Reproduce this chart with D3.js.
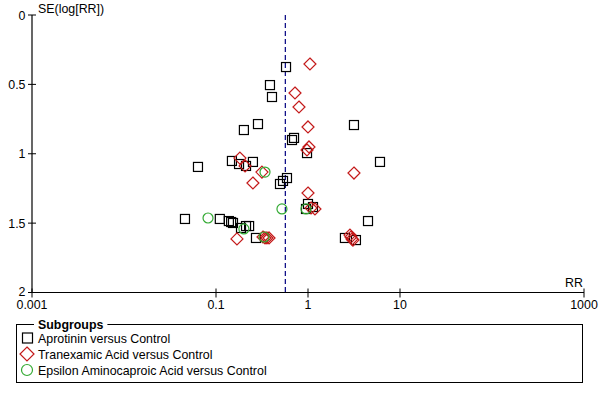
<!DOCTYPE html>
<html>
<head>
<meta charset="utf-8">
<script src="https://cdn.jsdelivr.net/npm/d3@7"></script>
<style>
  html, body { margin: 0; padding: 0; background: #fff; }
  svg { display: block; font-family: "Liberation Sans", Arial, sans-serif; }
</style>
</head>
<body>
<svg id="chart" width="600" height="400"></svg>
<script>
// ---- Data (RR, SE(log RR)) ----
const subgroups = ["Aprotinin versus Control", "Tranexamic Acid versus Control", "Epsilon Aminocaproic Acid versus Control"];

const aprotininRR = [0.577, 0.386, 0.406, 0.286, 0.201, 0.670, 0.705, 3.16, 0.976, 6.06, 0.0637, 0.149, 0.178, 0.212, 0.252, 0.496, 0.535, 0.591, 1.0, 0.951, 1.133, 4.49, 2.52, 3.32, 0.046, 0.110, 0.138, 0.146, 0.153, 0.187, 0.212, 0.229, 0.272];
const aprotininSE = [0.375, 0.505, 0.591, 0.786, 0.829, 0.901, 0.886, 0.793, 0.995, 1.059, 1.095, 1.052, 1.074, 1.088, 1.059, 1.218, 1.196, 1.175, 1.362, 1.398, 1.384, 1.485, 1.607, 1.622, 1.470, 1.470, 1.485, 1.492, 1.499, 1.535, 1.521, 1.521, 1.607];

const tranexamicRR = [1.05, 0.722, 0.798, 1.0, 1.025, 0.975, 3.16, 1.0, 1.19, 1.08, 2.86, 2.93, 3.01, 3.08, 0.182, 0.207, 0.316, 0.252, 0.169, 0.324, 0.341, 0.358, 0.377];
const tranexamicSE = [0.353, 0.562, 0.663, 0.807, 0.951, 0.973, 1.139, 1.283, 1.398, 1.391, 1.586, 1.600, 1.614, 1.622, 1.031, 1.088, 1.132, 1.211, 1.614, 1.600, 1.607, 1.607, 1.607];

const epsilonRR = [0.341, 0.521, 0.0819, 0.201, 0.333, 0.951];
const epsilonSE = [1.132, 1.398, 1.463, 1.542, 1.600, 1.398];

const pooledRR = 0.567;
const xTickValues = [0.001, 0.1, 1, 10, 1000];
const xTickLabels = ["0.001", "0.1", "1", "10", "1000"];
const yTickValues = [0, 0.5, 1, 1.5, 2];
const yTickLabels = ["0", "0.5", "1", "1.5", "2"];

// ---- Layout ----
const svg = d3.select("#chart");
const x = d3.scaleLog().domain([0.001, 1000]).range([32, 584]);
const y = d3.scaleLinear().domain([0, 2]).range([15, 292.5]);

const FONT = 12.4;

// Y axis
const yAxis = svg.append("g");
yAxis.append("line").attr("x1", 32).attr("x2", 32).attr("y1", y(0)).attr("y2", y(2))
  .attr("stroke", "#000").attr("stroke-width", 1.2);
yTickValues.forEach((v, i) => {
  yAxis.append("line").attr("x1", 28).attr("x2", 36).attr("y1", y(v)).attr("y2", y(v))
    .attr("stroke", "#000").attr("stroke-width", 1);
  yAxis.append("text").attr("x", 25.5).attr("y", y(v) + (v === 2 ? 3.5 : 4.5)).attr("text-anchor", "end")
    .attr("font-size", FONT).attr("fill", "#000").text(yTickLabels[i]);
});

// X axis
const xAxis = svg.append("g");
xAxis.append("line").attr("x1", x(0.001)).attr("x2", x(1000)).attr("y1", y(2)).attr("y2", y(2))
  .attr("stroke", "#000").attr("stroke-width", 1.2);
xTickValues.forEach((v, i) => {
  xAxis.append("line").attr("x1", x(v)).attr("x2", x(v)).attr("y1", y(2) - 4).attr("y2", y(2) + 5)
    .attr("stroke", "#000").attr("stroke-width", 1);
  xAxis.append("text").attr("x", x(v)).attr("y", y(2) + 16.5).attr("text-anchor", "middle")
    .attr("font-size", FONT).attr("fill", "#000").text(xTickLabels[i]);
});

// Axis titles
svg.append("text").attr("x", 38).attr("y", 13).attr("font-size", FONT).attr("fill", "#000").text("SE(log[RR])");
svg.append("text").attr("x", 583).attr("y", 287).attr("text-anchor", "end").attr("font-size", FONT).attr("fill", "#000").text("RR");

// Pooled estimate dashed line
svg.append("line").attr("x1", x(pooledRR)).attr("x2", x(pooledRR)).attr("y1", y(0)).attr("y2", y(2))
  .attr("stroke", "#000080").attr("stroke-width", 1.2).attr("stroke-dasharray", "5,3");

// ---- Markers ----
const plot = svg.append("g");
const sq = 9;
plot.selectAll("rect.apr").data(d3.zip(aprotininRR, aprotininSE)).join("rect")
  .attr("class", "apr")
  .attr("x", d => x(d[0]) - sq / 2).attr("y", d => y(d[1]) - sq / 2)
  .attr("width", sq).attr("height", sq)
  .attr("fill", "none").attr("stroke", "#000").attr("stroke-width", 1.2);

const dm = 6;
plot.selectAll("path.tra").data(d3.zip(tranexamicRR, tranexamicSE)).join("path")
  .attr("class", "tra")
  .attr("d", d => {
    const cx = x(d[0]), cy = y(d[1]);
    return `M${cx},${cy - dm}L${cx + dm},${cy}L${cx},${cy + dm}L${cx - dm},${cy}Z`;
  })
  .attr("fill", "none").attr("stroke", "#c41a1a").attr("stroke-width", 1.2);

plot.selectAll("circle.eps").data(d3.zip(epsilonRR, epsilonSE)).join("circle")
  .attr("class", "eps")
  .attr("cx", d => x(d[0])).attr("cy", d => y(d[1])).attr("r", 5)
  .attr("fill", "none").attr("stroke", "#33aa33").attr("stroke-width", 1.2);

// ---- Legend ----
const lg = svg.append("g");
lg.append("rect").attr("x", 16.5).attr("y", 324.5).attr("width", 566).attr("height", 58)
  .attr("fill", "none").attr("stroke", "#000").attr("stroke-width", 1);
const title = lg.append("text").attr("x", 38).attr("y", 328.5).attr("font-size", FONT)
  .attr("font-weight", "bold").attr("fill", "#000").text("Subgroups");
const tw = title.node().getComputedTextLength();
lg.insert("rect", "text").attr("x", 34).attr("y", 320).attr("width", tw + 8).attr("height", 8).attr("fill", "#fff");

const rowY = [338, 354, 370];
lg.append("rect").attr("x", 22.5).attr("y", rowY[0] - 5).attr("width", 10).attr("height", 10)
  .attr("fill", "none").attr("stroke", "#000").attr("stroke-width", 1.2);
lg.append("path").attr("d", `M27,${rowY[1] - 7}L34,${rowY[1]}L27,${rowY[1] + 7}L20,${rowY[1]}Z`)
  .attr("fill", "none").attr("stroke", "#c41a1a").attr("stroke-width", 1.2);
lg.append("circle").attr("cx", 27).attr("cy", rowY[2]).attr("r", 5.5)
  .attr("fill", "none").attr("stroke", "#33aa33").attr("stroke-width", 1.2);
subgroups.forEach((s, i) => {
  lg.append("text").attr("x", 38).attr("y", rowY[i] + 4.5).attr("font-size", FONT).attr("fill", "#000").text(s);
});
</script>
</body>
</html>
